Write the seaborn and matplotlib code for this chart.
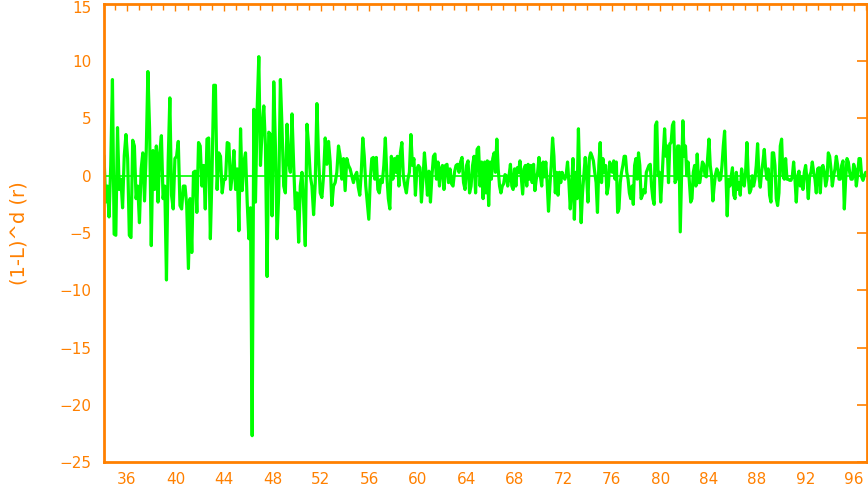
import numpy as np
import pandas as pd
import matplotlib
matplotlib.use("Agg")
import matplotlib.pyplot as plt
import matplotlib.transforms as mtransforms
import seaborn as sns
from matplotlib.ticker import MultipleLocator

# ---- data ----
seg_edges = [34.10, 44.41, 54.96, 65.51, 76.06, 86.61, 97.07]

seg1 = [1.75, -2.3, -0.9, -3.6, 0.9, 8.4, -5.1, -5.2, 4.2, -1.2, -0.3, -2.8, 1.75, 3.6, 1.5, -5.2, -5.4, 3.1,
        2.6, -2.0, -0.9, -4.1, 0.6, 2.0, -2.2, 2.0, 9.1, 4.1, -6.1, 2.2, -1.2, 2.6, -2.3, 2.0, 3.5, -2.0, -0.9,
        -9.1, 1.2, 6.8, -1.7, -2.9, 1.5, 1.7, 3.0, -2.6, -2.9, -0.9, -0.9, -2.6, -8.1, -2.0, -6.7, 0.3, 0.4,
        -3.2, 2.9, 2.6, -0.9, 0.9, -2.9, 3.2, 3.3, -5.5, 0.3, 7.9, 7.9, -1.2, 2.0, 1.7, -1.5, -0.3, -0.3, 2.9]
seg2 = [2.8, -1.2, 0, 2.2, -1.2, 0.6, -4.8, 4.1, -1.3, 1.2, 2.0, -2.3, -5.5, -2.8, -22.7, 5.8, -2.3, 5.8,
        10.4, 0.9, 4.1, 6.1, 2.6, -8.8, 3.8, 3.6, -3.5, 8.2, 2.6, -5.5, -1.5, 8.4, 4.1, -0.9, -1.5, 4.5, 1.2,
        0.3, 5.4, 0.9, -2.9, -1.5, -5.8, -0.9, 0.3, -2.6, -6.1, 4.5, 2.6, 0, -0.9, -3.4, -0.6, 6.3, 1.5, -1.5,
        -1.9, 0, 3.3, 1.0, 3.0, 1.2, -2.6, -0.9, -0.6, 0.3, 2.6, 1.7, -0.3, 1.5, -1.3, 1.5, 0.9, 0.6, 0, -0.6, 0]
seg3 = [0.3, -1.0, -1.7, 0.3, 3.3, 1.7, -0.9, -2.3, -3.8, -0.3, 1.5, 1.6, -0.3, 1.6, -1.2, -1.5, -0.3, -0.6,
        0.9, 3.3, 0, -2.0, -2.9, 1.7, -0.3, 1.5, 0.3, 1.7, -0.9, 2.0, 2.9, -0.1, -0.9, -1.5, -0.3, 0.3, 3.6,
        0.9, 1.5, -1.7, 0.6, 0.9, 0.7, -2.3, -0.3, 2.0, 0.3, -1.7, 0.4, -2.3, 0, 1.7, 1.9, -0.3, 1.2, -0.9,
        0.6, 0.9, -1.2, 0.9, 1.0, -0.6, 0.6, -0.7, -0.9, 0.3, 0.9, 1.0, 0.3, 1.2, 1.6, -0.6, -1.2, 0.9, 1.3,
        -1.5, -0.9, 0.9, 1.7, -1.5, 2.3, 2.5, -0.9, 1.2, -2.0]
seg4 = [1.2, -1.5, 1.3, -2.6, 1.2, -0.3, 1.5, 2.0, 0.3, 3.2, 0.6, -0.9, -1.5, -0.9, -0.7, 0.1, 0, -0.9, 0,
        1.0, -0.9, -1.2, 0.6, -0.9, 0.7, 0.3, 1.3, -0.1, -1.6, 0.6, 0.9, -0.9, 1.0, -0.3, 0.9, -0.6, 1.0, -1.3,
        -0.3, 0.3, 1.6, 0, -0.9, 1.2, -0.1, 1.2, -0.6, -3.1, -0.9, 0.9, 3.3, 1.7, -1.5, 0.3, -1.7, 0.3, -0.6,
        0.3, -0.1, -0.3, 0.1, 1.2, -0.6, -2.9, -0.9, 1.5, -3.8, 0.3, -2.0, 4.1, -0.6, -4.1, -1.5, 0, 1.6, 0,
        -2.3, 1.5, 2.0, 1.7, 1.3, 0.3, -0.6, -3.2, 0.9, 2.9, -0.6, 1.5, 0.3, 0.9, -1.6, -0.9, 1.2, 0.6]
seg5 = [0.3, 1.3, -0.3, 1.2, -3.2, -2.9, -0.6, 0.3, 0.9, 1.7, 1.7, 0.3, -0.3, -1.5, -2.0, -0.9, -2.5, 0.9,
        1.5, -0.3, 2.0, 0.9, -2.0, -1.7, -1.2, -1.5, 0.3, 0.6, 0.9, 1.0, -0.9, -2.0, -2.5, 4.4, 4.7, 0, 0.3,
        -2.3, -0.3, 2.0, 4.1, 1.7, 2.6, -0.6, 2.8, 2.9, 4.4, 4.7, -0.6, -0.3, 2.6, 2.6, -4.9, 0, 4.8, 1.7, 2.6,
        0, 1.2, -0.6, -2.3, -2.0, 0.3, 0.9, -0.9, 1.9, -0.6, -0.6, 0.3, 1.2, 1.0, 0, -0.1, 1.5, 3.2, 0.9, 0,
        -2.2, -0.9, 0.1, 0.6, 0.3, -0.4, -0.3, 0.9, 2.6, 3.9, 0.3, -3.5, -0.3, -0.9, -0.1, 0.7, -1.7, -2.0,
        0.3, -1.2, -0.6]
seg6 = [-1.7, 0.6, -0.3, -0.9, 0.3, 2.9, 0, -1.5, -1.2, 0, -0.9, -0.3, 0.9, 2.8, 0, -1.0, 0.3, 1.2, 2.3, 0.6,
        -0.3, 0.6, -1.7, -2.3, 2.0, 2.0, 0.9, -2.0, -2.6, -1.5, 2.6, 3.2, 0, -0.3, 1.5, -0.3, -0.3, -0.4, -0.4,
        -0.1, 1.2, -0.3, -2.3, -0.1, 0.4, -0.9, -0.1, -1.2, 0.3, 0.9, -0.3, -2.0, 0, 0.3, 1.2, 0.3, -0.3, -1.5,
        0.6, 0.7, -1.5, 0.7, 0.9, 0.3, -0.9, -0.3, 2.0, 1.7, 0.6, -0.9, 0, 0.6, 1.7, 0.9, -0.3, -0.3, 0.9, 1.3,
        -2.9, -0.3, 1.5, 1.2, 0.3, -0.3, -0.3, 1.0, 0.6, -0.9, 0.1, 1.5, 1.5, -0.1, -0.4, 0, 0.3]

segments = [seg1, seg2, seg3, seg4, seg5, seg6]
ylabel = "(1-L)^d (r)"
x_range = (34.10, 97.07)
y_range = (-25, 15)

# build the time axis: samples spread evenly inside each segment
t_parts, v_parts = [], []
for (a, b), vals in zip(zip(seg_edges[:-1], seg_edges[1:]), segments):
    t_parts.append(np.linspace(a, b, len(vals), endpoint=False))
    v_parts.append(np.asarray(vals, dtype=float))
df = pd.DataFrame({"t": np.concatenate(t_parts), "v": np.concatenate(v_parts)})

ORANGE = "#FF8000"
GREEN = "#00FF00"

sns.set_style("white")
plt.rcParams["font.family"] = ["DejaVu Sans"]

fig = plt.figure(figsize=(8.68, 4.91), dpi=100)
ax = fig.add_axes([104 / 868, 1 - 462 / 491, (867 - 104) / 868, (462 - 4) / 491])

ax.axhline(0, color=GREEN, lw=1.2, zorder=1)
sns.lineplot(data=df, x="t", y="v", ax=ax, color=GREEN, lw=2.3, estimator=None, sort=False, zorder=2)

ax.set_xlim(*x_range)
ax.set_ylim(*y_range)
ax.xaxis.set_major_locator(MultipleLocator(4))
ax.xaxis.set_minor_locator(MultipleLocator(1))
ax.yaxis.set_major_locator(MultipleLocator(5))

for s in ax.spines.values():
    s.set_color(ORANGE)
    s.set_linewidth(2)

ax.tick_params(axis="both", which="both", direction="in", colors=ORANGE,
               top=True, right=True, labelsize=11)
ax.tick_params(axis="y", which="major", length=7, width=1.2, pad=9)
ax.tick_params(axis="x", which="major", length=5, width=1.0, pad=7)
ax.tick_params(axis="x", which="minor", length=4, width=1.0)

fig.canvas.draw()
shift = mtransforms.ScaledTranslation(0, -3 / 100, fig.dpi_scale_trans)
for lab in ax.get_yticklabels():
    lab.set_color(ORANGE)
    if lab.get_position()[1] >= y_range[1]:
        lab.set_transform(lab.get_transform() + shift)
for lab in ax.get_xticklabels():
    lab.set_color(ORANGE)

ax.set_xlabel("")
ax.set_ylabel(ylabel, color=ORANGE, fontsize=14, labelpad=22)

fig.savefig("out.png", dpi=100)
